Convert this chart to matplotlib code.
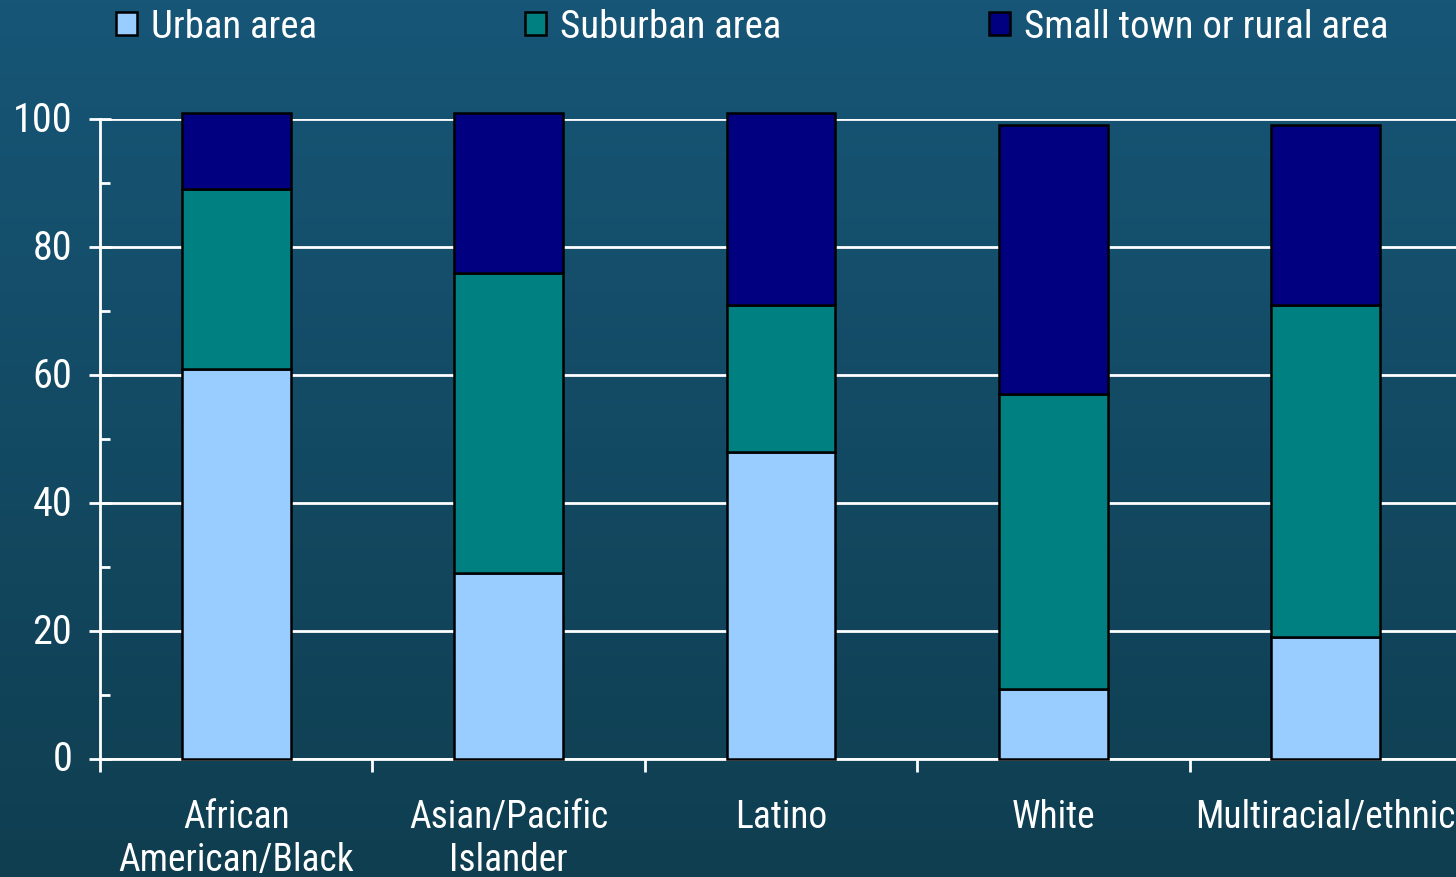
import numpy as np
import matplotlib.pyplot as plt
from matplotlib import font_manager as fm
from matplotlib.colors import LinearSegmentedColormap

categories = ['African\nAmerican/Black', 'Asian/Pacific\nIslander', 'Latino', 'White', 'Multiracial/ethnic']
urban = [61, 29, 48, 11, 19]
suburban = [28, 47, 23, 46, 52]
rural = [12, 25, 30, 42, 28]
series_names = ['Urban area', 'Suburban area', 'Small town or rural area']
colors = ['#99ccff', '#008080', '#000080']

# narrow sans, close to the Arial Narrow of the original
installed = {f.name for f in fm.fontManager.ttflist}
wanted = ['Liberation Sans Narrow', 'Arial Narrow', 'Roboto Condensed', 'Archivo Narrow',
          'PT Sans Narrow', 'Pragati Narrow', 'IBM Plex Sans Condensed', 'Fira Sans Condensed']
narrow = [n for n in wanted if n in installed][:1]
plt.rcParams['font.family'] = narrow + ['DejaVu Sans']

fig = plt.figure(figsize=(14.56, 8.78), dpi=100)

# gradient background
bg = fig.add_axes([0, 0, 1, 1], zorder=-10)
grad = np.linspace(0, 1, 256).reshape(-1, 1)
cmap = LinearSegmentedColormap.from_list('bg', ['#175677', '#0f3e50'])
bg.imshow(grad, aspect='auto', cmap=cmap, extent=[0, 1, 0, 1], origin='upper')
bg.axis('off')

W, H = 1456, 878
ax = fig.add_axes([100 / W, (H - 760) / H, 1362 / W, 640 / H])
ax.patch.set_visible(False)

x = np.arange(len(categories))
b1 = ax.bar(x, urban, 0.4, color=colors[0], edgecolor='black', linewidth=1.8, zorder=3, clip_on=False)
bottom2 = np.array(urban)
b2 = ax.bar(x, suburban, 0.4, bottom=bottom2, color=colors[1], edgecolor='black', linewidth=1.8, zorder=3, clip_on=False)
bottom3 = bottom2 + np.array(suburban)
b3 = ax.bar(x, rural, 0.4, bottom=bottom3, color=colors[2], edgecolor='black', linewidth=1.8, zorder=3, clip_on=False)

ax.set_xlim(-0.5, 4.5)
ax.set_ylim(0, 100)
ax.set_yticks(range(0, 101, 20))
ax.set_yticks(range(10, 100, 20), minor=True)
ax.yaxis.grid(True, color='white', linewidth=2, zorder=0)
ax.set_axisbelow(True)

for s in ['top', 'right']:
    ax.spines[s].set_visible(False)
for s in ['left', 'bottom']:
    ax.spines[s].set_color('white')
    ax.spines[s].set_linewidth(2)

ax.tick_params(axis='y', which='major', direction='inout', length=16, width=2,
               colors='white', labelsize=29, pad=12)
ax.tick_params(axis='y', which='minor', direction='in', length=7, width=2, colors='white')
for lbl in ax.get_yticklabels():
    lbl.set_verticalalignment('center')

ax.set_xticks(x)
ax.set_xticklabels(categories, linespacing=1.2)
ax.set_xticks(np.arange(-0.5, 5, 1), minor=True)
ax.tick_params(axis='x', which='major', length=0, colors='white', labelsize=27, pad=28)
ax.tick_params(axis='x', which='minor', direction='out', length=9, width=2, colors='white')
for lbl in ax.get_xticklabels():
    lbl.set_verticalalignment('top')

fig.legend([b1, b2, b3], series_names, loc='upper left', bbox_to_anchor=(100 / W, 1.007),
           ncol=3, frameon=False, fontsize=28, labelcolor='white',
           handlelength=0.55, handleheight=0.55, handletextpad=0.35,
           columnspacing=5.35, borderaxespad=0)

fig.savefig('out.png', dpi=100)
